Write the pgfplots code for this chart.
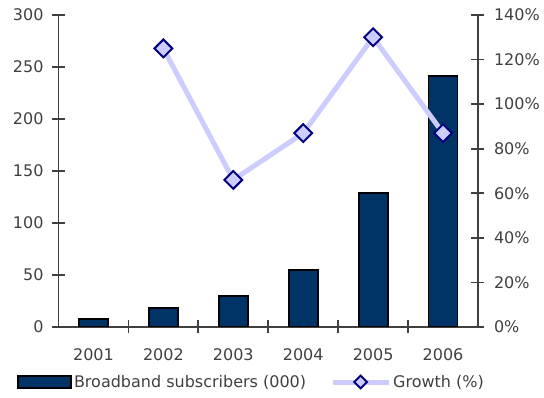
\documentclass[border=0pt]{standalone}
\usepackage{pgfplots}
\pgfplotsset{compat=1.18}
\usepackage{fontspec}
\setmainfont{DejaVu Sans}
\definecolor{navy}{HTML}{003366}
\definecolor{lav}{HTML}{CCCCFF}
\definecolor{mk}{HTML}{000080}
\definecolor{axc}{HTML}{404040}
\begin{document}
\begin{tikzpicture}[x=1pt,y=1pt]
\pgfplotsset{
  base/.style={width=419.5pt,height=312pt,scale only axis,
    at={(0pt,0pt)},anchor=south west,
    xmin=-0.5,xmax=5.5,
    axis line style={axc,line width=1.8pt},
    tick style={axc,line width=1.8pt},
    tick align=center,major tick length=13pt,minor tick length=13pt,
    ticklabel style={font=\fontsize{16}{19}\selectfont,text=axc},
    /pgf/number format/assume math mode=true}
}
\begin{axis}[base,
  axis x line*=bottom, axis y line*=left,
  ymin=0,ymax=300,ytick={0,50,...,300},
  xtick={0,...,5},xticklabels={2001,2002,2003,2004,2005,2006},
  major x tick style={draw=none},
  minor xtick={0.5,1.5,2.5,3.5,4.5},
  xticklabel style={yshift=-12pt},
  yticklabel style={xshift=-5pt}]
\addplot[ybar,bar width=29pt,fill=navy,draw=black,line width=1.8pt]
  coordinates {(0,8)(1,18)(2,30)(3,55)(4,129)(5,241)};
\end{axis}
\begin{axis}[base,
  axis x line=none, axis y line*=right,
  ymin=0,ymax=140,ytick={0,20,...,140},
  yticklabel={\pgfmathprintnumber{\tick}\%},
  yticklabel style={xshift=6pt},
  legend columns=2,
  legend style={draw=none,fill=none,at={(-0.0989,-0.1763)},anchor=west,
    inner sep=0pt,font=\fontsize{16}{19}\selectfont,text=axc,
    /tikz/every even column/.append style={column sep=22pt}}]
\addlegendimage{legend image code/.code={\draw[fill=navy,draw=black,line width=1.8pt] (0pt,-6pt) rectangle (53pt,6pt);}}
\addlegendentry{Broadband subscribers (000)}
\addplot[lav,line width=5pt,mark=square*,mark size=6.3pt,
  mark options={fill=lav,draw=mk,line width=2pt,rotate=45},
  legend image code/.code={\draw[lav,line width=5pt] (0pt,0pt) -- (56pt,0pt);
    \path (28pt,0pt) node[draw=mk,fill=lav,line width=1.8pt,minimum size=9pt,inner sep=0pt,rotate=45] {};}]
  coordinates {(1,125)(2,66)(3,87)(4,130)(5,87)};
\addlegendentry{Growth (\%)}
\end{axis}
\path (-58.5pt,-71pt) rectangle (485.5pt,327pt);
\end{tikzpicture}
\end{document}
